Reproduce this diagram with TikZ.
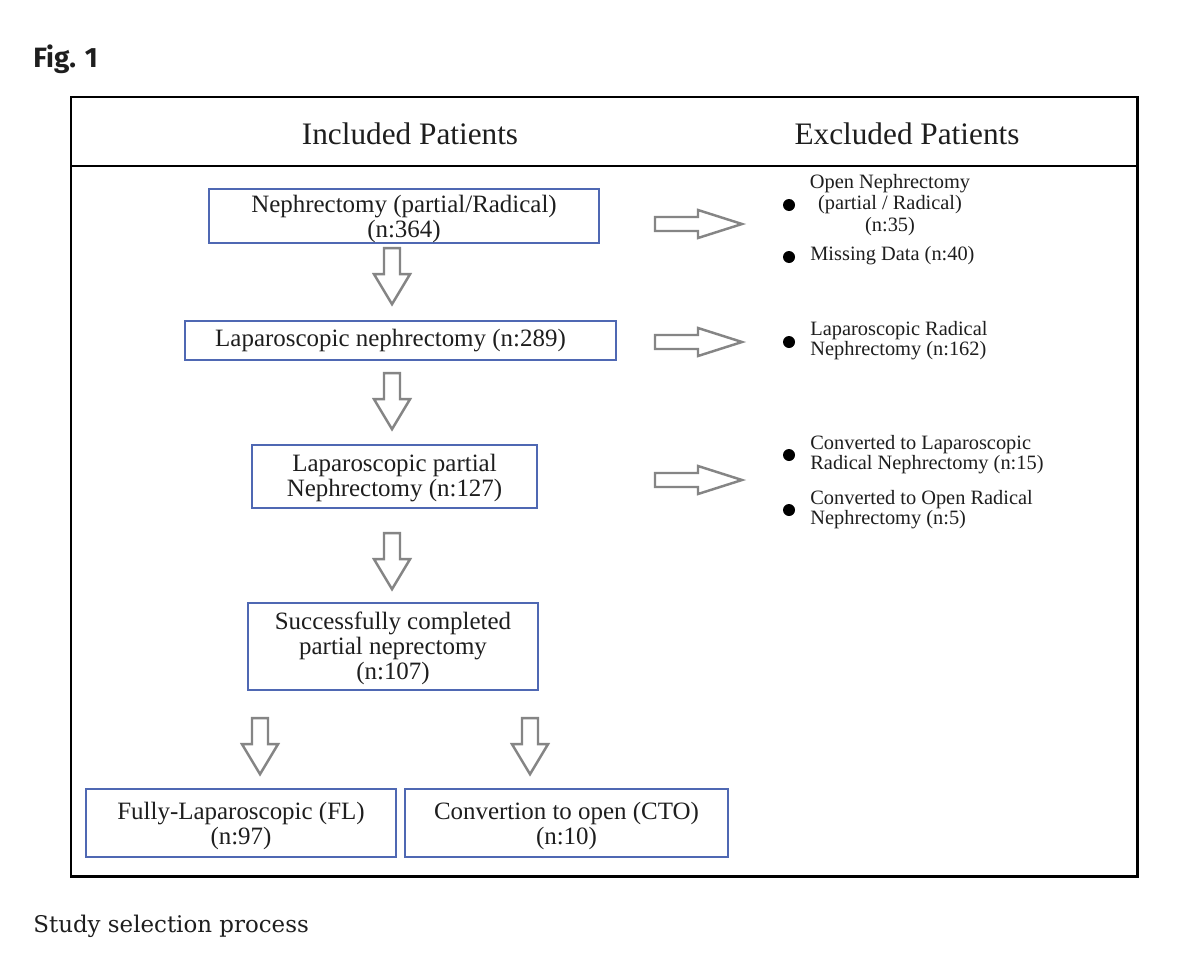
\documentclass[tikz,border=0pt]{standalone}
\usepackage{fontspec}
\setmainfont{Liberation Serif}
\newfontfamily\figfont{Fira Sans}
\newfontfamily\capfont{DejaVu Serif}
\definecolor{boxblue}{HTML}{4F68B3}
\definecolor{arrgray}{HTML}{858585}
\definecolor{txt}{HTML}{1E1E1E}
\tikzset{
  frameline/.style={draw=black, line width=1.7pt},
  flowbox/.style={draw=boxblue, line width=1.35pt, inner sep=0pt, align=center, text=txt,
    font=\fontsize{14.2}{14.3}\selectfont},
  headtext/.style={inner sep=0pt, text=txt, font=\fontsize{17.8}{20}\selectfont},
  exctext/.style={inner sep=0pt, text=txt, font=\fontsize{11.6}{11.5}\selectfont},
  arrowline/.style={draw=arrgray, line width=1.4pt, line join=miter, fill=white},
  bulletdot/.style={circle, fill=black, inner sep=0pt, minimum size=0.24cm},
  darr/.pic={\draw[arrowline] (-8,0) -- (8,0) -- (8,26) -- (18,26) -- (0,56) -- (-18,26) -- (-8,26) -- cycle;},
  rarr/.pic={\draw[arrowline] (0,-7) -- (43,-7) -- (43,-14) -- (87,0) -- (43,14) -- (43,7) -- (0,7) -- cycle;}
}
\begin{document}
\begin{tikzpicture}[x=0.02cm, y=-0.02cm]
\useasboundingbox[fill=white] (0,0) rectangle (1200,967);

% caption texts
\node[anchor=base west, inner sep=0pt, text=txt, font=\figfont\bfseries\fontsize{15.9}{18}\selectfont] (fig) at (33,67) {Fig. 1};
\node[anchor=base west, inner sep=0pt, text=txt, font=\capfont\fontsize{13.05}{15}\selectfont] (cap) at (33,932) {Study selection process};

% frame
\draw[frameline] (71,97) rectangle (1137,876);
\draw[frameline] (71,166) -- (1137,166);

\node[headtext] (hin) at (410,134) {Included Patients};
\node[headtext] (hex) at (907,134) {Excluded Patients};

% boxes
\node[flowbox, minimum width=7.8cm, minimum height=1.08cm] (b1) at (404,216) {\rule{0pt}{13pt}Nephrectomy (partial/Radical)\\(n:364)};
\node[flowbox, minimum width=8.62cm, minimum height=0.78cm] (b2) at (400.5,340.5) {Laparoscopic nephrectomy (n:289)\hspace*{0.4cm}};
\node[flowbox, minimum width=5.7cm, minimum height=1.26cm] (b3) at (394.5,476.5) {\rule{0pt}{11.5pt}Laparoscopic partial\\Nephrectomy (n:127)};
\node[flowbox, minimum width=5.8cm, minimum height=1.74cm] (b4) at (393,646.5) {\rule{0pt}{12pt}Successfully completed\\partial neprectomy\\(n:107)};
\node[flowbox, minimum width=6.2cm, minimum height=1.36cm] (b5) at (241,823) {\rule{0pt}{13.5pt}Fully-Laparoscopic (FL)\\(n:97)};
\node[flowbox, minimum width=6.46cm, minimum height=1.36cm] (b6) at (566.5,823) {\rule{0pt}{13.5pt}Convertion to open (CTO)\\(n:10)};

% down arrows
\path (b1.south) ++(-12,4) pic {darr};
\path (b2.south) ++(-8.5,12) pic {darr};
\path (b3.south) ++(-2.5,24) pic {darr};
\path (b4.south) ++(-133,27) pic {darr};
\path (b4.south) ++(137,27) pic {darr};

% right arrows
\coordinate (r1) at (655,224);
\coordinate (r2) at (655,342);
\coordinate (r3) at (655,480);
\pic at (r1) {rarr};
\pic at (r2) {rarr};
\pic at (r3) {rarr};

% excluded
\node[bulletdot] (d1) at (789,205) {};
\node[bulletdot] (d2) at (789,257) {};
\node[bulletdot] (d3) at (789,342) {};
\node[bulletdot] (d4) at (789,455) {};
\node[bulletdot] (d5) at (789,510) {};

\node[exctext, align=center, font=\fontsize{11.6}{12.4}\selectfont] (e1) at (890,205) {Open Nephrectomy\\(partial / Radical)\\(n:35)};
\node[exctext, anchor=base west] (e2) at (810,260) {Missing Data (n:40)};
\node[exctext, align=left, anchor=west] (e3) at (810,341) {Laparoscopic Radical\\Nephrectomy (n:162)};
\node[exctext, align=left, anchor=west] (e4) at (810,455) {Converted to Laparoscopic\\Radical Nephrectomy (n:15)};
\node[exctext, align=left, anchor=west] (e5) at (810,510) {Converted to Open Radical\\Nephrectomy (n:5)};
\end{tikzpicture}
\end{document}
